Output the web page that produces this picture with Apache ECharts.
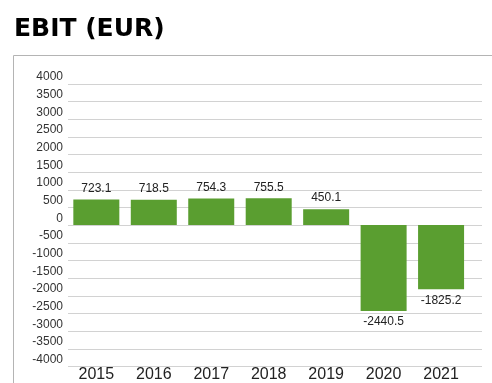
<!DOCTYPE html>
<html>
<head>
<meta charset="utf-8">
<script src="https://cdn.jsdelivr.net/npm/echarts@6/dist/echarts.min.js"></script>
<style>
  html, body { margin: 0; padding: 0; background: #fff; }
  #chart { width: 492px; height: 383px; }
</style>
</head>
<body>
<div id="chart"></div>
<script>
// Yearly EBIT figures in EUR
const years = ['2015', '2016', '2017', '2018', '2019', '2020', '2021'];
const ebit = [723.1, 718.5, 754.3, 755.5, 450.1, -2440.5, -1825.2];

// Value axis range and tick step
const yMin = -4000;
const yMax = 4000;
const yStep = 500;

const chart = echarts.init(document.getElementById('chart'), null, { renderer: 'canvas' });

const plotTop = 84;
const plotHeight = 282.7;

chart.setOption({
  animation: false,
  title: {
    text: 'EBIT (EUR)',
    left: 14,
    top: 17,
    padding: 0,
    textStyle: {
      fontFamily: 'DejaVu Sans',
      fontWeight: 'bold',
      fontSize: 25,
      color: '#000'
    }
  },
  graphic: [
    {
      type: 'polyline',
      silent: true,
      shape: { points: [[13.5, 400], [13.5, 55.5], [500, 55.5]] },
      style: { stroke: '#b4b4b4', lineWidth: 1, fill: null }
    }
  ],
  grid: [
    { left: 68, width: 414, top: plotTop, height: plotHeight },
    { left: 67.6, width: 402.2, top: plotTop, height: plotHeight }
  ],
  xAxis: [
    {
      gridIndex: 0,
      type: 'value',
      min: 0,
      max: 1,
      show: false
    },
    {
      gridIndex: 1,
      type: 'category',
      data: years,
      position: 'bottom',
      axisLine: { show: false },
      axisTick: { show: false },
      axisLabel: {
        margin: 1,
        fontFamily: 'Liberation Sans, Arial',
        fontSize: 16,
        color: '#222'
      }
    }
  ],
  yAxis: [
    {
      gridIndex: 0,
      type: 'value',
      min: yMin,
      max: yMax,
      interval: yStep,
      axisLine: { show: false },
      axisTick: { show: false },
      axisLabel: {
        margin: 5,
        verticalAlign: 'bottom',
        lineHeight: 14,
        fontFamily: 'Liberation Sans, Arial',
        fontSize: 12,
        color: '#333',
        formatter: v => String(v)
      },
      splitLine: { lineStyle: { color: '#d2d2d2', width: 1 } }
    },
    {
      gridIndex: 1,
      type: 'value',
      min: yMin,
      max: yMax,
      interval: yStep,
      show: false,
      splitLine: { show: false }
    }
  ],
  series: [
    {
      type: 'bar',
      xAxisIndex: 1,
      yAxisIndex: 1,
      data: ebit.map(v => ({
        value: v,
        label: { position: v >= 0 ? 'top' : 'bottom' }
      })),
      barWidth: 46,
      itemStyle: { color: '#5a9e30' },
      label: {
        show: true,
        distance: 5,
        fontFamily: 'Liberation Sans, Arial',
        fontSize: 12,
        color: '#222',
        formatter: p => p.value.toFixed(1)
      }
    }
  ]
});
</script>
</body>
</html>
